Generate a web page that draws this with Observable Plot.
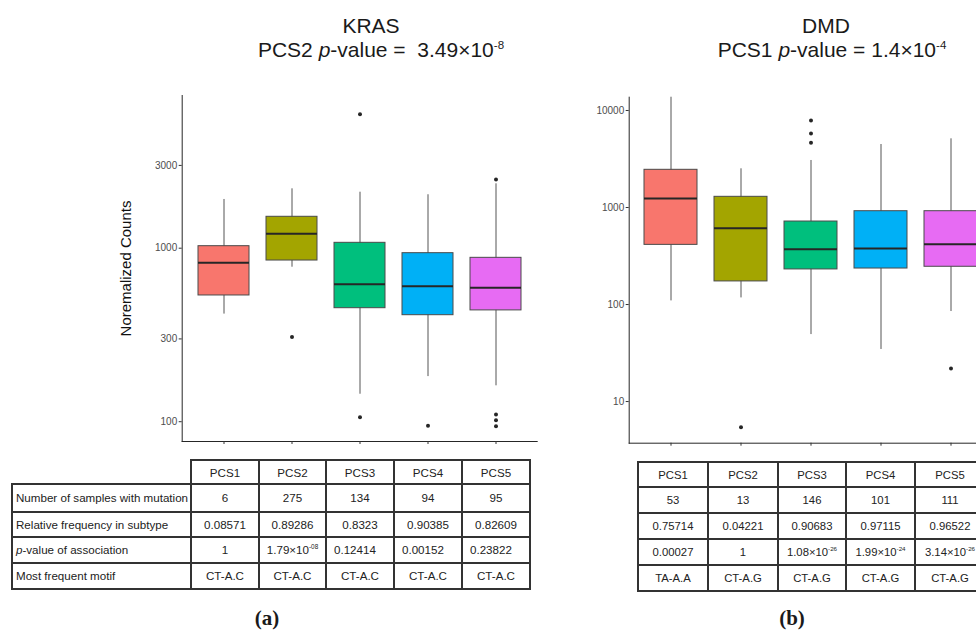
<!DOCTYPE html>
<html><head><meta charset="utf-8">
<script src="https://cdn.jsdelivr.net/npm/d3@7"></script>
<script src="https://cdn.jsdelivr.net/npm/@observablehq/plot@0.6"></script>
<style>
html,body{margin:0;padding:0;background:#fff;width:976px;height:633px;overflow:hidden;}
#root{position:relative;width:976px;height:633px;overflow:hidden;font-family:"Liberation Sans",Arial,sans-serif;color:#1a1a1a;}
.t{position:absolute;font-size:21px;line-height:21px;white-space:nowrap;text-align:center;width:400px;}
.t sup,td sup{font-size:0.55em;line-height:0;vertical-align:super;}
.panel{position:absolute;}
.panel svg{max-width:none !important;}
table{position:absolute;border-collapse:collapse;table-layout:fixed;font-size:11.3px;color:#222;}
td{border:2px solid #333;padding:0;text-align:center;white-space:nowrap;overflow:hidden;}
td.lab{text-align:left;padding-left:3px;}
td.lft{text-align:left;padding-left:7px;}
td.empty{border-top:hidden;border-left:hidden;}
.sub{position:absolute;font-family:"Liberation Serif","DejaVu Serif",serif;font-weight:bold;font-size:21px;line-height:21px;width:60px;text-align:center;}
</style>
</head><body><div id="root">
<div class="t" style="left:171px;top:14.5px">KRAS</div>
<div class="t" style="left:181px;top:39px">PCS2 <i>p</i>-value =&nbsp; 3.49×10<sup>-8</sup></div>
<div class="t" style="left:626px;top:14.5px">DMD</div>
<div class="t" style="left:632px;top:39px">PCS1 <i>p</i>-value = 1.4×10<sup>-4</sup></div>
<div id="left" class="panel" style="left:100px;top:80px;width:440px;height:370px"></div>
<div id="right" class="panel" style="left:580px;top:80px;width:420px;height:370px"></div>
<div class="sub" style="left:237px;top:608px">(a)</div>
<div class="sub" style="left:762px;top:608px">(b)</div>
</div>
<script>
const categories = ["PCS1", "PCS2", "PCS3", "PCS4", "PCS5"];
const boxColors = ["#F8766D", "#A3A500", "#00BF7D", "#00B0F6", "#E76BF3"];

// KRAS panel (a)
const krasLow = [417, 777, 144, 182, 161];
const krasQ1 = [534, 849, 451, 411, 438];
const krasMedian = [824, 1211, 620, 604, 591];
const krasQ3 = [1027, 1517, 1074, 936, 880];
const krasHigh = [1909, 2199, 2102, 2032, 2350];
const krasOutlierGroup = ["PCS2", "PCS3", "PCS3", "PCS4", "PCS5", "PCS5", "PCS5", "PCS5"];
const krasOutlierValue = [308, 5920, 106, 94.7, 2489, 110, 102, 94];
const krasTicks = [100, 300, 1000, 3000];

// DMD panel (b)
const dmdLow = [109, 117, 49, 34.4, 84.7];
const dmdQ1 = [412, 173, 230, 235, 245];
const dmdMedian = [1238, 612, 372, 378, 418];
const dmdQ3 = [2447, 1289, 717, 916, 916];
const dmdHigh = [13700, 2506, 3052, 4460, 5105];
const dmdOutlierGroup = ["PCS2", "PCS3", "PCS3", "PCS3", "PCS5"];
const dmdOutlierValue = [5.43, 7885, 5794, 4645, 21.9];
const dmdTicks = [10, 100, 1000, 10000];

// tables
const rowLabels = ["Number of samples with mutation", "Relative frequency in subtype", "<i>p</i>-value of association", "Most frequent motif"];
const krasSamples = ["6", "275", "134", "94", "95"];
const krasRelFreq = ["0.08571", "0.89286", "0.8323", "0.90385", "0.82609"];
const krasPValue = ["1", "1.79×10<sup>-08</sup>", "0.12414", "0.00152", "0.23822"];
const krasMotif = ["CT-A.C", "CT-A.C", "CT-A.C", "CT-A.C", "CT-A.C"];
const dmdSamples = ["53", "13", "146", "101", "111"];
const dmdRelFreq = ["0.75714", "0.04221", "0.90683", "0.97115", "0.96522"];
const dmdPValue = ["0.00027", "1", "1.08×10<sup>-26</sup>", "1.99×10<sup>-24</sup>", "3.14×10<sup>-26</sup>"];
const dmdMotif = ["TA-A.A", "CT-A.G", "CT-A.G", "CT-A.G", "CT-A.G"];

function boxChart(o) {
  const stats = categories.map((c, i) => ({cat: c, low: o.low[i], q1: o.q1[i], med: o.med[i], q3: o.q3[i], high: o.high[i]}));
  const outs = o.outCat.map((c, i) => ({cat: c, v: o.outVal[i]}));
  const marks = [
    Plot.ruleX(stats, {x: "cat", y1: "low", y2: "high", stroke: "#555", strokeWidth: 1}),
    Plot.barY(stats, {x: "cat", y1: "q1", y2: "q3", fill: "cat", stroke: "#4a4a4a", strokeWidth: 1}),
    Plot.tickY(stats, {x: "cat", y: "med", stroke: "#262626", strokeWidth: 2}),
    Plot.dot(outs, {x: "cat", y: "v", r: 2, fill: "#262626", stroke: null}),
    Plot.frame({anchor: "left", stroke: "#262626"}),
    Plot.frame({anchor: "bottom", stroke: "#262626"}),
    Plot.axisY({ticks: o.ticks, tickSize: 3, tickPadding: 2, fontSize: 10, fill: "#4d4d4d", stroke: "#333", label: null, tickFormat: d => String(d)}),
    Plot.axisX({tickSize: 3, tickFormat: () => "", label: null, stroke: "#333"})
  ];
  if (o.label) marks.push(Plot.axisY({ticks: [], label: o.label, labelArrow: "none", labelAnchor: "center", labelOffset: o.labelOffset, fontSize: 15, fill: "#111"}));
  return Plot.plot({
    width: o.width, height: o.height,
    marginLeft: o.marginLeft, marginRight: o.marginRight, marginTop: o.marginTop, marginBottom: o.marginBottom,
    x: {type: "band", domain: categories, paddingInner: 0.25, paddingOuter: 0.225},
    y: {type: "log", domain: o.domain},
    color: {domain: categories, range: boxColors},
    style: {fontFamily: "'Liberation Sans', Arial, sans-serif", overflow: "visible", background: "transparent", maxWidth: "none"},
    marks
  });
}

document.getElementById("left").append(boxChart({
  low: krasLow, q1: krasQ1, med: krasMedian, q3: krasQ3, high: krasHigh,
  outCat: krasOutlierGroup, outVal: krasOutlierValue, ticks: krasTicks,
  domain: [76.9, 7586], width: 440, height: 370,
  marginLeft: 81.7, marginRight: 3.3, marginTop: 15, marginBottom: 9,
  label: "Noremalized Counts", labelOffset: 62
}));
document.getElementById("right").append(boxChart({
  low: dmdLow, q1: dmdQ1, med: dmdMedian, q3: dmdQ3, high: dmdHigh,
  outCat: dmdOutlierGroup, outVal: dmdOutlierValue, ticks: dmdTicks,
  domain: [3.72, 13710], width: 420, height: 370,
  marginLeft: 48.7, marginRight: 7.3, marginTop: 16.7, marginBottom: 7.3
}));

function makeTable(opts) {
  const t = document.createElement("table");
  t.style.left = opts.left + "px";
  t.style.top = opts.top + "px";
  t.style.fontSize = opts.fontSize + "px";
  const widths = opts.colWidths;
  t.style.width = widths.reduce((a, b) => a + b, 0) + "px";
  const cg = document.createElement("colgroup");
  widths.forEach(w => { const c = document.createElement("col"); c.style.width = w + "px"; cg.append(c); });
  t.append(cg);
  const rows = [categories, ...opts.rows];
  rows.forEach((r, ri) => {
    const tr = document.createElement("tr");
    tr.style.height = opts.rowHeights[ri] + "px";
    if (opts.labels) {
      const td = document.createElement("td");
      if (ri === 0) td.className = "empty";
      else { td.className = "lab"; td.innerHTML = opts.labels[ri - 1]; }
      tr.append(td);
    }
    r.forEach((v, ci) => {
      const td = document.createElement("td");
      td.innerHTML = v;
      if (opts.leftAlign && opts.leftAlign[ri] && opts.leftAlign[ri].includes(ci)) td.className = "lft";
      tr.append(td);
    });
    t.append(tr);
  });
  document.getElementById("root").append(t);
}
makeTable({
  left: 11, top: 459, labels: rowLabels, fontSize: 11.6,
  colWidths: [179, 68, 67, 68, 68, 68],
  rowHeights: [24, 27.5, 25, 26.5, 25.5],
  rows: [krasSamples, krasRelFreq, krasPValue, krasMotif],
  leftAlign: {3: [2, 3, 4]}
});
makeTable({
  left: 637, top: 461, labels: null, fontSize: 11.3,
  colWidths: [70, 70, 68, 69, 70],
  rowHeights: [25, 26, 25.5, 26.5, 26],
  rows: [dmdSamples, dmdRelFreq, dmdPValue, dmdMotif]
});
</script>
</body></html>
